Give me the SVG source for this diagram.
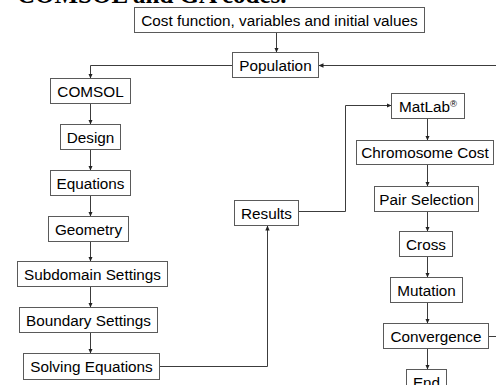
<svg xmlns="http://www.w3.org/2000/svg" width="496" height="385" viewBox="0 0 496 385">
<style>
.box rect{fill:#fff;stroke:#5a5a5a;stroke-width:1}
.box text{font-family:"Liberation Sans",Arial,sans-serif;font-size:15.3px;fill:#000;text-anchor:middle}
.conn path{fill:none;stroke:#3c3c3c;stroke-width:1}
.title{font-family:"Liberation Serif","Times New Roman",serif;font-weight:bold;font-size:25px;fill:#000}
</style>
<defs>
<marker id="ah" markerUnits="userSpaceOnUse" markerWidth="5" markerHeight="5" refX="5" refY="2.5" orient="auto">
<path d="M0,0.3 L5,2.5 L0,4.7 z" fill="#222"/>
</marker>
</defs>
<rect width="496" height="385" fill="#fff"/>
<text class="title" x="17" y="2.5">COMSOL and GA codes.</text>
<g class="conn">
<path d="M276.5,32.5 V52.5" marker-end="url(#ah)"/>
<path d="M232.5,65.5 H90.5 V78.5" marker-end="url(#ah)"/>
<path d="M496,65.5 H318.5" marker-end="url(#ah)"/>
<path d="M90.5,103.5 V124.5" marker-end="url(#ah)"/>
<path d="M90.5,149.5 V170.5" marker-end="url(#ah)"/>
<path d="M90.5,195.5 V216.5" marker-end="url(#ah)"/>
<path d="M90.5,241.5 V261.5" marker-end="url(#ah)"/>
<path d="M90.5,286.5 V307.5" marker-end="url(#ah)"/>
<path d="M90.5,332.5 V353.5" marker-end="url(#ah)"/>
<path d="M159.5,366.5 H267.5 V225.5" marker-end="url(#ah)"/>
<path d="M298.5,211.5 H345.5 V105.5 H391.5" marker-end="url(#ah)"/>
<path d="M427.5,118.5 V140.5" marker-end="url(#ah)"/>
<path d="M427.5,164.5 V186.5" marker-end="url(#ah)"/>
<path d="M427.5,211.5 V231.5" marker-end="url(#ah)"/>
<path d="M427.5,256.5 V277.5" marker-end="url(#ah)"/>
<path d="M427.5,302.5 V323.5" marker-end="url(#ah)"/>
<path d="M427.5,348.5 V369.5" marker-end="url(#ah)"/>
<path d="M488.5,336.5 H496"/>
</g>
<g id="cost" class="box"><rect x="134.5" y="7.5" width="290" height="25"/><text x="279.5" y="25.5">Cost function, variables and initial values</text></g>
<g id="population" class="box"><rect x="232.5" y="52.5" width="86" height="25"/><text x="275.5" y="70.5">Population</text></g>
<g id="comsol" class="box"><rect x="50.5" y="78.5" width="80" height="25"/><text x="90.5" y="96.5">COMSOL</text></g>
<g id="design" class="box"><rect x="60.5" y="124.5" width="60" height="25"/><text x="90.5" y="142.5">Design</text></g>
<g id="equations" class="box"><rect x="50.5" y="170.5" width="80" height="25"/><text x="90.5" y="188.5">Equations</text></g>
<g id="geometry" class="box"><rect x="48.5" y="216.5" width="80" height="25"/><text x="88.5" y="234.5">Geometry</text></g>
<g id="subdomain" class="box"><rect x="17.5" y="261.5" width="150" height="25"/><text x="92.5" y="279.5">Subdomain Settings</text></g>
<g id="boundary" class="box"><rect x="19.5" y="307.5" width="138" height="25"/><text x="88.5" y="325.5">Boundary Settings</text></g>
<g id="solving" class="box"><rect x="23.5" y="353.5" width="136" height="26"/><text x="91.5" y="372">Solving Equations</text></g>
<g id="results" class="box"><rect x="234.5" y="200.5" width="64" height="25"/><text x="266.5" y="218.5">Results</text></g>
<g id="matlab" class="box"><rect x="391.5" y="93.5" width="73" height="25"/><text x="428" y="111.5">MatLab<tspan font-size="9.5" dy="-5">®</tspan></text></g>
<g id="chromosome" class="box"><rect x="356.5" y="140.5" width="137" height="24"/><text x="425" y="157.5">Chromosome Cost</text></g>
<g id="pair" class="box"><rect x="374.5" y="186.5" width="104" height="25"/><text x="426.5" y="204.5">Pair Selection</text></g>
<g id="cross" class="box"><rect x="399.5" y="231.5" width="53" height="25"/><text x="426" y="249.5">Cross</text></g>
<g id="mutation" class="box"><rect x="390.5" y="277.5" width="72" height="25"/><text x="426.5" y="295.5">Mutation</text></g>
<g id="convergence" class="box"><rect x="383.5" y="323.5" width="105" height="25"/><text x="436" y="341.5">Convergence</text></g>
<g id="end" class="box"><rect x="406.5" y="369.5" width="40" height="25"/><text x="426.5" y="387.5">End</text></g>
</svg>
